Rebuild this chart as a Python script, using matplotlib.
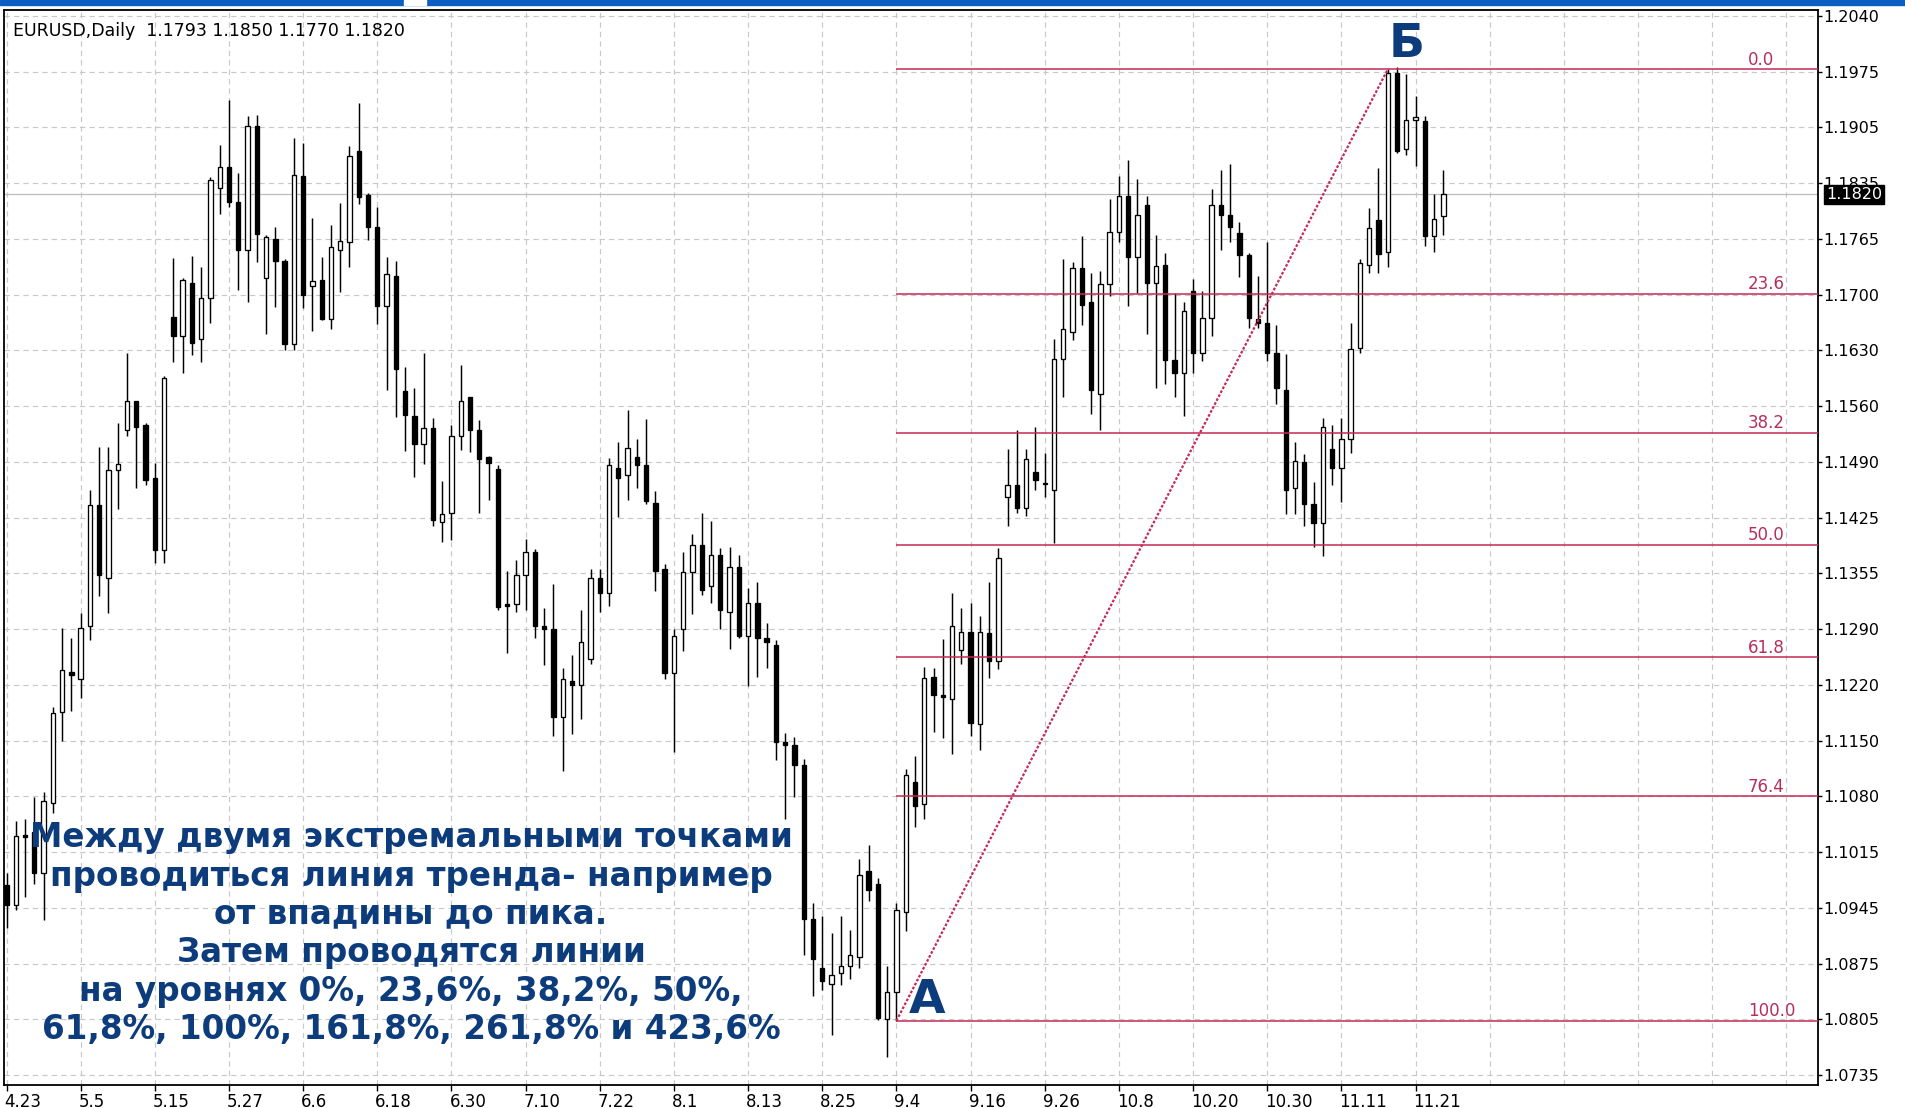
import numpy as np
import matplotlib
matplotlib.use("Agg")
import matplotlib.pyplot as plt
from matplotlib.transforms import ScaledTranslation
from matplotlib.patches import Rectangle

W, H, DPI = 1905, 1108, 100
NAVY = "#0c3c7c"; FIB = "#c42a55"; FIBTXT = "#b4305a"; GRID = "#c8c8c8"

# ---- EURUSD daily candles ----
opens = [1.0969, 1.0945, 1.1031, 1.1034, 1.0984, 1.1070, 1.1182, 1.1232, 1.1223, 1.1288,
         1.1437, 1.1347, 1.1481, 1.1530, 1.1565, 1.1536, 1.1470, 1.1382, 1.1669, 1.1646,
         1.1711, 1.1642, 1.1692, 1.1828, 1.1854, 1.1811, 1.1752, 1.1904, 1.1717, 1.1765,
         1.1738, 1.1636, 1.1843, 1.1707, 1.1714, 1.1667, 1.1752, 1.1761, 1.1874, 1.1819,
         1.1780, 1.1682, 1.1720, 1.1578, 1.1547, 1.1513, 1.1532, 1.1417, 1.1427, 1.1522,
         1.1571, 1.1530, 1.1496, 1.1482, 1.1315, 1.1316, 1.1351, 1.1380, 1.1288, 1.1284,
         1.1176, 1.1221, 1.1216, 1.1248, 1.1348, 1.1329, 1.1483, 1.1474, 1.1496, 1.1487,
         1.1440, 1.1358, 1.1231, 1.1284, 1.1355, 1.1388, 1.1337, 1.1376, 1.1306, 1.1361,
         1.1276, 1.1317, 1.1273, 1.1265, 1.1146, 1.1142, 1.1117, 1.0927, 1.0867, 1.0847,
         1.0861, 1.0870, 1.0880, 1.0987, 1.0970, 1.0804, 1.0838, 1.0936, 1.1096, 1.1069,
         1.1226, 1.1203, 1.1198, 1.1259, 1.1281, 1.1167, 1.1280, 1.1245, 1.1447, 1.1462,
         1.1434, 1.1478, 1.1465, 1.1456, 1.1617, 1.1651, 1.1729, 1.1687, 1.1574, 1.1710,
         1.1774, 1.1818, 1.1743, 1.1807, 1.1711, 1.1733, 1.1616, 1.1600, 1.1701, 1.1625,
         1.1668, 1.1807, 1.1795, 1.1773, 1.1745, 1.1667, 1.1661, 1.1624, 1.1579, 1.1458,
         1.1490, 1.1439, 1.1415, 1.1506, 1.1483, 1.1519, 1.1631, 1.1733, 1.1788, 1.1749,
         1.1970, 1.1876, 1.1911, 1.1910, 1.1769, 1.1793]
highs = [1.0984, 1.1048, 1.1050, 1.1078, 1.1084, 1.1189, 1.1286, 1.1273, 1.1304, 1.1456,
         1.1509, 1.1509, 1.1538, 1.1624, 1.1566, 1.1538, 1.1489, 1.1596, 1.1741, 1.1717,
         1.1744, 1.1730, 1.1842, 1.1881, 1.1936, 1.1846, 1.1916, 1.1918, 1.1770, 1.1780,
         1.1740, 1.1890, 1.1883, 1.1791, 1.1743, 1.1782, 1.1809, 1.1880, 1.1932, 1.1822,
         1.1805, 1.1743, 1.1738, 1.1607, 1.1582, 1.1624, 1.1544, 1.1467, 1.1536, 1.1610,
         1.1571, 1.1542, 1.1498, 1.1487, 1.1356, 1.1369, 1.1395, 1.1383, 1.1311, 1.1340,
         1.1236, 1.1252, 1.1308, 1.1359, 1.1359, 1.1495, 1.1515, 1.1554, 1.1519, 1.1543,
         1.1454, 1.1365, 1.1284, 1.1380, 1.1402, 1.1428, 1.1418, 1.1384, 1.1386, 1.1376,
         1.1335, 1.1343, 1.1292, 1.1271, 1.1157, 1.1151, 1.1124, 1.0947, 1.0931, 1.0910,
         1.0931, 1.0914, 1.1001, 1.1019, 1.0978, 1.0870, 1.0947, 1.1112, 1.1128, 1.1238,
         1.1236, 1.1272, 1.1329, 1.1310, 1.1317, 1.1301, 1.1343, 1.1384, 1.1506, 1.1530,
         1.1506, 1.1534, 1.1502, 1.1642, 1.1740, 1.1737, 1.1769, 1.1723, 1.1725, 1.1814,
         1.1843, 1.1862, 1.1839, 1.1818, 1.1770, 1.1748, 1.1698, 1.1687, 1.1716, 1.1701,
         1.1826, 1.1850, 1.1858, 1.1786, 1.1748, 1.1720, 1.1761, 1.1659, 1.1623, 1.1515,
         1.1500, 1.1466, 1.1545, 1.1536, 1.1545, 1.1661, 1.1740, 1.1803, 1.1852, 1.1974,
         1.1977, 1.1968, 1.1941, 1.1917, 1.1820, 1.1850]
lows = [1.0916, 1.0939, 1.0955, 1.0971, 1.0926, 1.1058, 1.1147, 1.1183, 1.1199, 1.1271,
        1.1325, 1.1304, 1.1433, 1.1522, 1.1458, 1.1462, 1.1366, 1.1366, 1.1614, 1.1600,
        1.1622, 1.1614, 1.1662, 1.1796, 1.1804, 1.1702, 1.1688, 1.1737, 1.1648, 1.1681,
        1.1628, 1.1628, 1.1680, 1.1652, 1.1665, 1.1654, 1.1700, 1.1731, 1.1808, 1.1764,
        1.1660, 1.1579, 1.1546, 1.1504, 1.1472, 1.1488, 1.1411, 1.1392, 1.1394, 1.1505,
        1.1503, 1.1427, 1.1444, 1.1308, 1.1255, 1.1305, 1.1308, 1.1273, 1.1240, 1.1153,
        1.1110, 1.1155, 1.1174, 1.1241, 1.1305, 1.1313, 1.1422, 1.1444, 1.1458, 1.1439,
        1.1332, 1.1223, 1.1133, 1.1258, 1.1303, 1.1327, 1.1317, 1.1285, 1.1260, 1.1273,
        1.1214, 1.1225, 1.1237, 1.1123, 1.1051, 1.1078, 1.0883, 1.0832, 1.0840, 1.0784,
        1.0846, 1.0854, 1.0867, 1.0950, 1.0803, 1.0758, 1.0802, 1.0912, 1.1041, 1.1050,
        1.1158, 1.1150, 1.1131, 1.1241, 1.1153, 1.1136, 1.1224, 1.1235, 1.1411, 1.1428,
        1.1424, 1.1456, 1.1447, 1.1390, 1.1570, 1.1640, 1.1659, 1.1549, 1.1530, 1.1695,
        1.1761, 1.1682, 1.1699, 1.1648, 1.1581, 1.1587, 1.1570, 1.1547, 1.1600, 1.1615,
        1.1646, 1.1752, 1.1761, 1.1718, 1.1655, 1.1655, 1.1615, 1.1562, 1.1426, 1.1426,
        1.1411, 1.1386, 1.1375, 1.1462, 1.1441, 1.1502, 1.1625, 1.1723, 1.1723, 1.1731,
        1.1871, 1.1869, 1.1855, 1.1756, 1.1749, 1.1770]
closes = [1.0945, 1.1030, 1.1029, 1.0984, 1.1073, 1.1181, 1.1234, 1.1228, 1.1286, 1.1437,
          1.1351, 1.1480, 1.1488, 1.1565, 1.1534, 1.1468, 1.1382, 1.1594, 1.1646, 1.1714,
          1.1637, 1.1692, 1.1838, 1.1854, 1.1810, 1.1752, 1.1904, 1.1771, 1.1767, 1.1738,
          1.1636, 1.1844, 1.1696, 1.1713, 1.1666, 1.1755, 1.1763, 1.1867, 1.1817, 1.1780,
          1.1682, 1.1722, 1.1605, 1.1548, 1.1513, 1.1532, 1.1419, 1.1426, 1.1522, 1.1565,
          1.1530, 1.1494, 1.1489, 1.1312, 1.1313, 1.1351, 1.1380, 1.1288, 1.1285, 1.1176,
          1.1223, 1.1216, 1.1268, 1.1348, 1.1329, 1.1487, 1.1471, 1.1508, 1.1487, 1.1442,
          1.1356, 1.1231, 1.1276, 1.1355, 1.1388, 1.1333, 1.1376, 1.1308, 1.1361, 1.1276,
          1.1317, 1.1273, 1.1268, 1.1146, 1.1142, 1.1117, 1.0927, 1.0878, 1.0851, 1.0858,
          1.0870, 1.0883, 1.0982, 1.0963, 1.0806, 1.0838, 1.0938, 1.1105, 1.1067, 1.1224,
          1.1203, 1.1201, 1.1288, 1.1281, 1.1169, 1.1281, 1.1245, 1.1372, 1.1462, 1.1434,
          1.1494, 1.1468, 1.1463, 1.1617, 1.1654, 1.1729, 1.1684, 1.1579, 1.1710, 1.1774,
          1.1818, 1.1743, 1.1795, 1.1711, 1.1732, 1.1616, 1.1600, 1.1676, 1.1625, 1.1668,
          1.1807, 1.1795, 1.1780, 1.1745, 1.1668, 1.1661, 1.1624, 1.1581, 1.1456, 1.1492,
          1.1439, 1.1415, 1.1534, 1.1483, 1.1519, 1.1630, 1.1735, 1.1779, 1.1746, 1.1970,
          1.1873, 1.1911, 1.1915, 1.1769, 1.1790, 1.1820]

date_labels = ["4.23", "5.5", "5.15", "5.27", "6.6", "6.18", "6.30", "7.10", "7.22", "8.1",
               "8.13", "8.25", "9.4", "9.16", "9.26", "10.8", "10.20", "10.30", "11.11", "11.21"]
price_labels = ["1.0735", "1.0805", "1.0875", "1.0945", "1.1015", "1.1080", "1.1150", "1.1220",
                "1.1290", "1.1355", "1.1425", "1.1490", "1.1560", "1.1630", "1.1700", "1.1765",
                "1.1835", "1.1905", "1.1975", "1.2040"]
fib_levels = [0.0, 23.6, 38.2, 50.0, 61.8, 76.4, 100.0]
bar_a, price_a = 96, 1.0802      # trough  (A)
bar_b, price_b = 149, 1.1974     # peak    (Б)
last_price = 1.1820
header = "EURUSD,Daily  1.1793 1.1850 1.1770 1.1820"
note_lines = ["Между двумя экстремальными точками",
              "проводиться линия тренда- например",
              "от впадины до пика.",
              "Затем проводятся линии",
              "на уровнях 0%, 23,6%, 38,2%, 50%,",
              "61,8%, 100%, 161,8%, 261,8% и 423,6%"]

# ---- figure / axes placed in pixel terms ----
fig = plt.figure(figsize=(W / DPI, H / DPI), dpi=DPI, facecolor="white")
L_px, R_px, T_px, B_px = 4, 1818, 10, 1085
ax = fig.add_axes([L_px / W, 1 - B_px / H, (R_px - L_px) / W, (B_px - T_px) / H])
bar_px = 9.27
ax.set_xlim((L_px - 6.5) / bar_px, (R_px - 6.5) / bar_px)
ax.set_ylim(1.07229, 1.20471)

o, h, l, c = map(np.array, (opens, highs, lows, closes))
x = np.arange(len(o))
up = c >= o
ax.vlines(x, l, h, color="black", lw=1.05, zorder=3)
bot = np.minimum(o, c); hgt = np.maximum(np.abs(c - o), 0.00003)
ax.bar(x[up], hgt[up], bottom=bot[up], width=0.47, color="white", edgecolor="black", lw=0.95, zorder=4)
ax.bar(x[~up], hgt[~up], bottom=bot[~up], width=0.47, color="black", edgecolor="black", lw=0.95, zorder=4)

# ---- axes, ticks, grid ----
ax.yaxis.tick_right()
yt = np.linspace(1.0735, 1.2040, len(price_labels))
ax.set_yticks(yt); ax.set_yticklabels(price_labels)
ax.set_xticks(np.arange(len(date_labels)) * 8); ax.set_xticklabels(date_labels)
ax.set_xticks(np.arange(len(date_labels) * 8, 196, 8), minor=True)
ax.tick_params(axis="y", which="major", length=3, width=1, pad=0.5, labelsize=11.5, colors="black")
ax.tick_params(axis="x", which="major", length=4, width=1, pad=1.5, labelsize=12, colors="black")
ax.tick_params(axis="x", which="minor", length=0)
off = ScaledTranslation(-2 / DPI, 0, fig.dpi_scale_trans)
for lab in ax.get_xticklabels():
    lab.set_horizontalalignment("left"); lab.set_transform(lab.get_transform() + off)
ax.grid(True, which="both", axis="x", color=GRID, lw=0.85, ls=(0, (4.5, 3.5)), zorder=0)
ax.grid(True, which="major", axis="y", color=GRID, lw=0.85, ls=(0, (4.5, 3.5)), zorder=0)
ax.set_axisbelow(True)
for s in ax.spines.values():
    s.set_color("black"); s.set_linewidth(1.3)

# current price line + marker (covers part of the 1.1835 label, as in MT4)
ax.axhline(last_price, color="#bdbdbd", lw=0.9, zorder=1)
ax.text(1.0045, last_price, f"{last_price:.4f}", transform=ax.get_yaxis_transform(),
        ha="left", va="center", color="white", fontsize=11.5, clip_on=False, zorder=20,
        bbox=dict(boxstyle="square,pad=0.12", fc="black", ec="black"))

# ---- Fibonacci retracement ----
xr = ax.get_xlim()[1]
for lvl in fib_levels:
    p = price_b - (price_b - price_a) * lvl / 100
    ax.hlines(p, bar_a, xr, color=FIB, lw=1.1, zorder=5)
    ax.annotate(f"{lvl:.1f}", xy=(0.9614, p), xycoords=("axes fraction", "data"),
                xytext=(0, 3.3), textcoords="offset points", ha="left", va="baseline",
                color=FIBTXT, fontsize=12, zorder=6)
ax.plot([bar_a, bar_b], [price_a, price_b], color=FIB, lw=1.6, ls=(0, (1.2, 0.8)), zorder=6)

# ---- texts ----
fig.text(13.4 / W, 1 - 35.5 / H, header, fontsize=12.5, color="black", va="baseline")
for txt, base in zip(note_lines, [847, 886, 923, 962, 1001, 1039]):
    fig.text(411 / W, 1 - base / H, txt, ha="center", va="baseline", fontsize=23.5,
             fontweight="bold", color=NAVY)
fig.text(909 / W, 1 - 1013 / H, "А", ha="left", va="baseline", fontsize=34, fontweight="bold", color=NAVY)
fig.text(1389 / W, 1 - 57 / H, "Б", ha="left", va="baseline", fontsize=34, fontweight="bold", color=NAVY)

# window title strip
fig.patches.append(Rectangle((0, 1 - 5 / H), 1, 5 / H, transform=fig.transFigure, color="#0a5fc0", zorder=10))
fig.patches.append(Rectangle((404 / W, 1 - 4.5 / H), 22 / W, 4.5 / H, transform=fig.transFigure,
                             color="white", zorder=11))

fig.savefig("out.png", dpi=DPI, facecolor="white")
